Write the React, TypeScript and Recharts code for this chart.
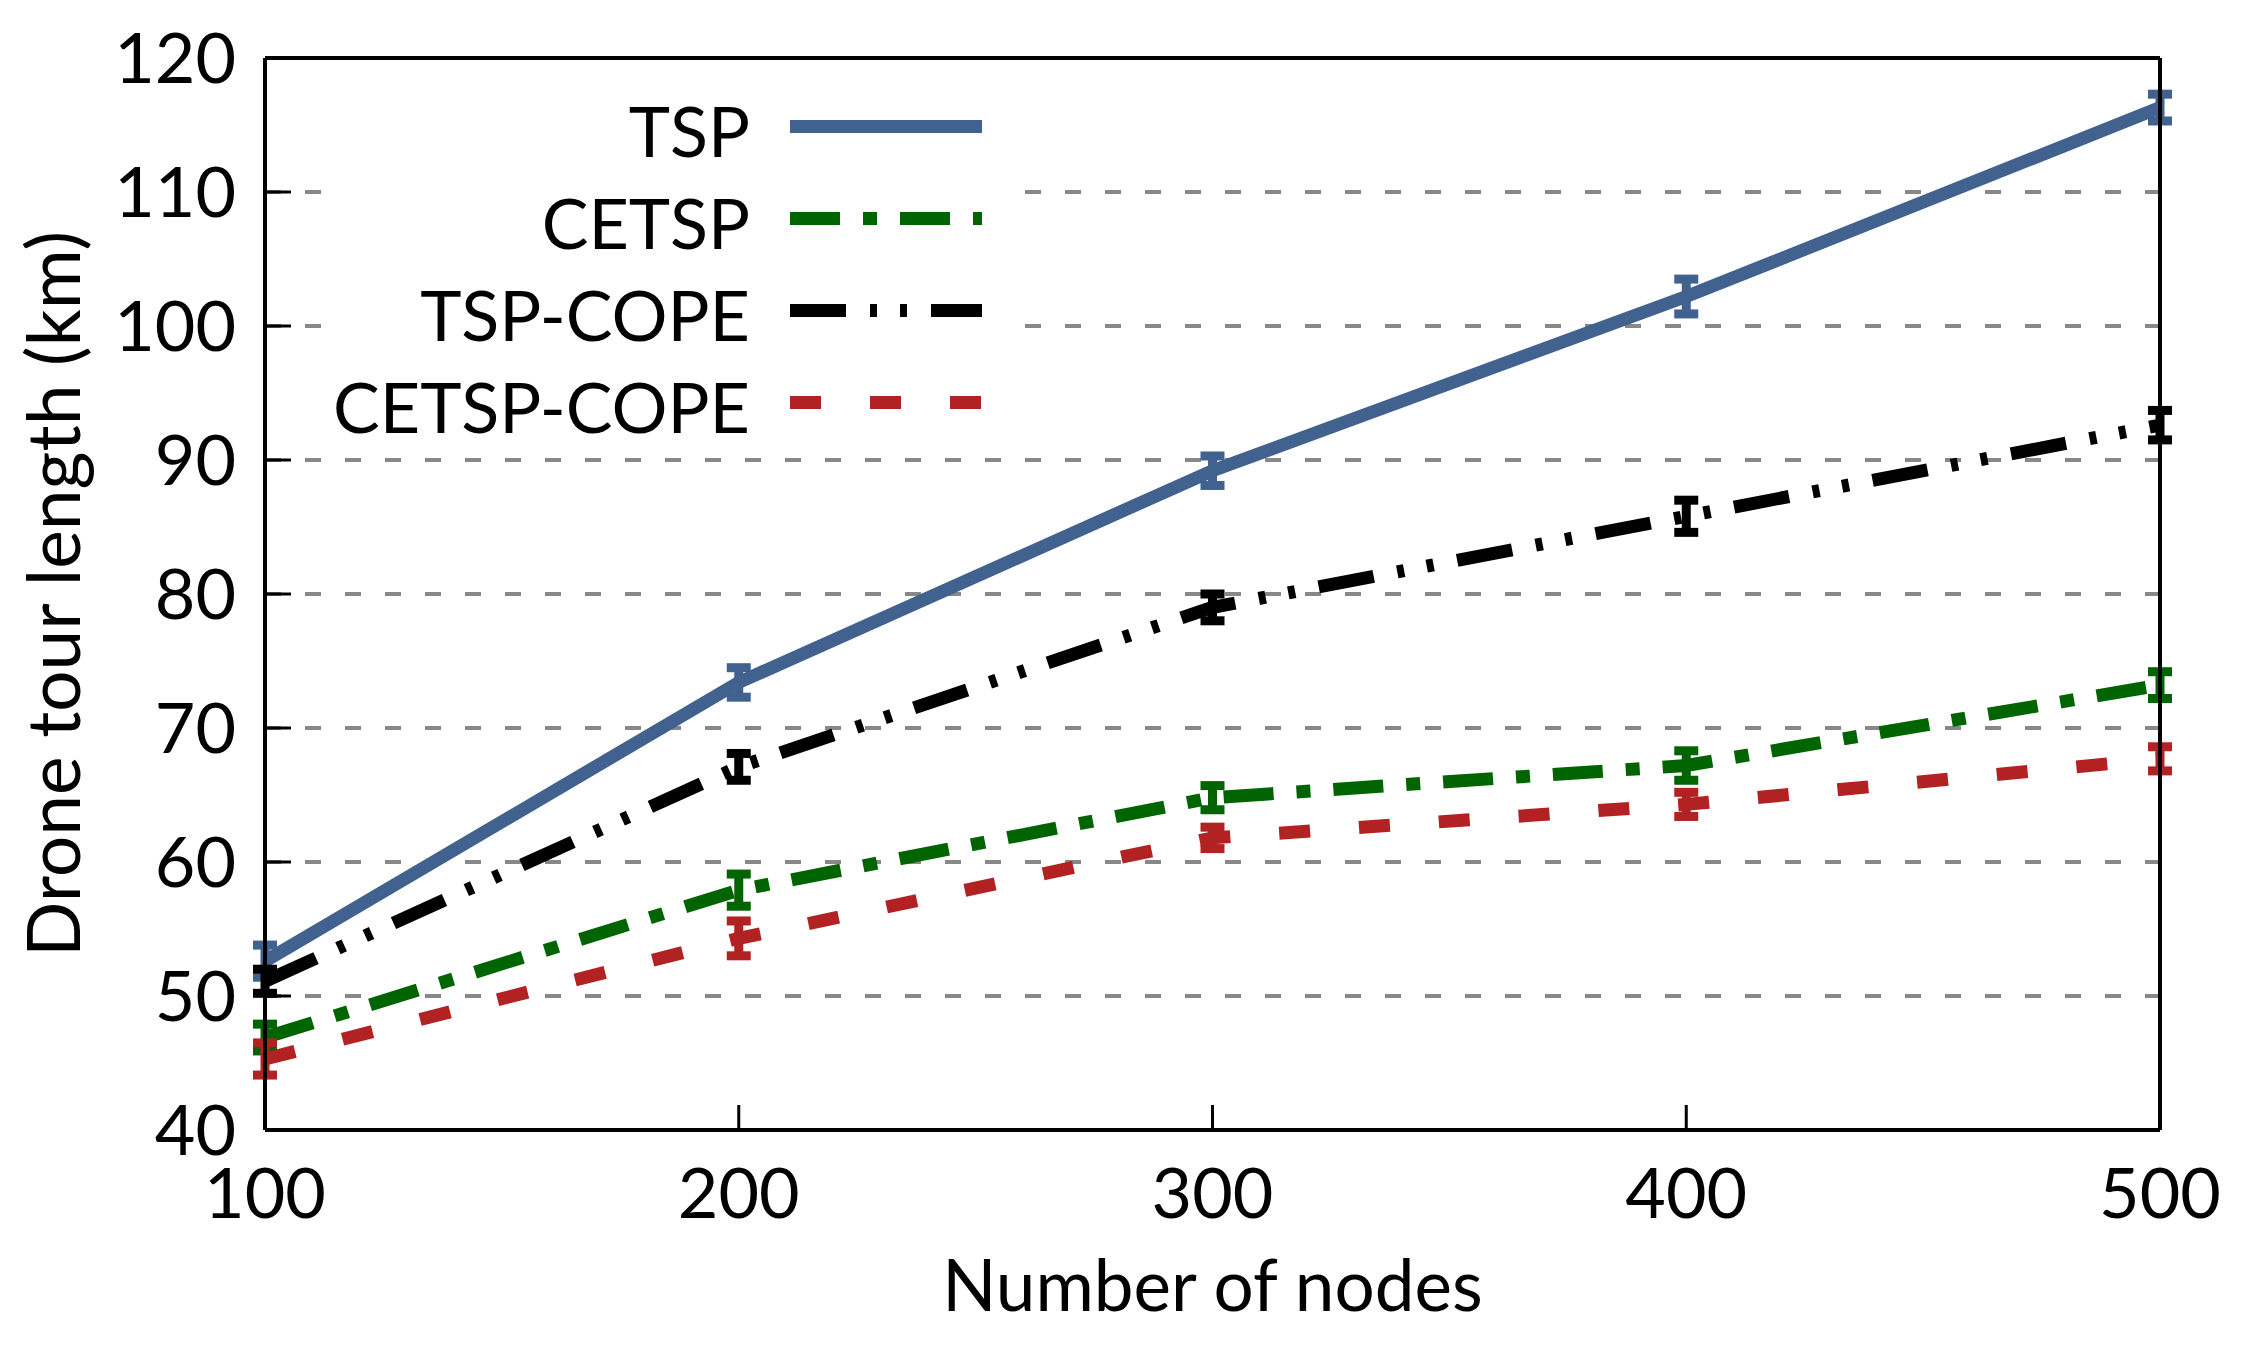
import React from 'react';
import { LineChart, Line, XAxis, YAxis, CartesianGrid, ErrorBar, Legend } from 'recharts';

const NODES = [100, 200, 300, 400, 500];
const Y_TICKS = [40, 50, 60, 70, 80, 90, 100, 110, 120];
const GRID_VALUES = [50, 60, 70, 80, 90, 100, 110];

const TSP = [52.6, 73.4, 89.2, 102.2, 116.3];
const TSP_ERR = [1.2, 1.1, 1.1, 1.3, 1.0];
const CETSP = [46.9, 57.9, 64.8, 67.2, 73.2];
const CETSP_ERR = [1.0, 1.2, 0.9, 1.1, 1.0];
const TSP_COPE = [51.1, 67.1, 79.0, 85.8, 92.6];
const TSP_COPE_ERR = [0.9, 1.0, 1.0, 1.2, 1.1];
const CETSP_COPE = [45.3, 54.3, 61.8, 64.3, 67.7];
const CETSP_COPE_ERR = [1.2, 1.3, 0.8, 0.9, 0.9];

const FONT = 'Lato, "Open Sans", sans-serif';

const SERIES = [
  { key: 'tsp', name: 'TSP', color: '#41618f', dash: undefined },
  { key: 'cetsp', name: 'CETSP', color: '#006400', dash: '50 23 14 23' },
  { key: 'tspCope', name: 'TSP-COPE', color: '#000000', dash: '56 24 7 23 7 24' },
  { key: 'cetspCope', name: 'CETSP-COPE', color: '#b22222', dash: '31 49' },
];

const data = NODES.map((n, i) => ({
  nodes: n,
  tsp: TSP[i],
  tspErr: TSP_ERR[i],
  cetsp: CETSP[i],
  cetspErr: CETSP_ERR[i],
  tspCope: TSP_COPE[i],
  tspCopeErr: TSP_COPE_ERR[i],
  cetspCope: CETSP_COPE[i],
  cetspCopeErr: CETSP_COPE_ERR[i],
}));

const tickStyle = { fontSize: 70, fontFamily: FONT, fill: '#000' };
const axisLine = { stroke: '#000', strokeWidth: 4 };
const tickLine = { stroke: '#000', strokeWidth: 3 };

const YTitle = (props: any) => {
  const vb = props.viewBox;
  const cx = vb.x + 80;
  const cy = vb.y + vb.height / 2;
  return (
    <text
      x={cx}
      y={cy}
      transform={`rotate(-90 ${cx} ${cy})`}
      textAnchor="middle"
      fontSize={73}
      fontFamily={FONT}
      fill="#000"
    >
      Drone tour length (km)
    </text>
  );
};

const XTitle = (props: any) => {
  const vb = props.viewBox;
  return (
    <text
      x={vb.x + vb.width / 2}
      y={vb.y + 181}
      textAnchor="middle"
      fontSize={71}
      fontFamily={FONT}
      fill="#000"
    >
      Number of nodes
    </text>
  );
};

// opaque key box, like gnuplot's "set key opaque"
const KeyBox = () => (
  <svg width={680} height={365} style={{ display: 'block' }}>
    {SERIES.map((s, i) => (
      <g key={s.key}>
        <text
          x={420}
          y={72 + 92 * i}
          textAnchor="end"
          fontSize={70}
          fontFamily={FONT}
          fill="#000"
        >
          {s.name}
        </text>
        <line
          x1={460}
          x2={652}
          y1={41.5 + 92 * i}
          y2={41.5 + 92 * i}
          stroke={s.color}
          strokeWidth={13}
          strokeDasharray={s.dash}
        />
      </g>
    ))}
  </svg>
);

export default function App() {
  return (
    <div style={{ position: 'absolute', left: 0, top: 0, width: 2257, height: 1346, background: '#fff' }}>
      <LineChart width={2257} height={1346} data={data} margin={{ top: 56, right: 95, bottom: 0, left: 0 }}>
        <CartesianGrid
          vertical={false}
          horizontalValues={GRID_VALUES}
          stroke="#888888"
          strokeWidth={4}
          strokeDasharray="16 24"
        />
        <XAxis
          dataKey="nodes"
          type="number"
          domain={[100, 500]}
          ticks={NODES}
          interval={0}
          height={216}
          tickSize={-25}
          tickMargin={63}
          tick={tickStyle}
          axisLine={axisLine}
          tickLine={tickLine}
          label={{ content: XTitle }}
        />
        <XAxis
          xAxisId="top"
          orientation="top"
          dataKey="nodes"
          type="number"
          domain={[100, 500]}
          ticks={NODES}
          interval={0}
          height={2}
          tickSize={-23}
          tick={false}
          axisLine={axisLine}
          tickLine={tickLine}
        />
        <YAxis
          type="number"
          domain={[40, 120]}
          ticks={Y_TICKS}
          interval={0}
          width={265}
          tickSize={-26}
          tickMargin={55}
          tick={tickStyle}
          axisLine={axisLine}
          tickLine={tickLine}
          label={{ content: YTitle }}
        />
        <YAxis
          yAxisId="right"
          orientation="right"
          type="number"
          domain={[40, 120]}
          ticks={Y_TICKS}
          interval={0}
          width={2}
          tickSize={-22}
          tick={false}
          axisLine={axisLine}
          tickLine={tickLine}
        />
        <Legend
          content={KeyBox}
          layout="horizontal"
          align="center"
          verticalAlign="middle"
          wrapperStyle={{ position: 'absolute', left: 330, top: 85, width: 680, height: 365, background: '#fff' }}
        />
        {SERIES.map((s) => (
          <Line
            key={s.key}
            dataKey={s.key}
            name={s.name}
            type="linear"
            stroke={s.color}
            strokeWidth={13}
            strokeDasharray={s.dash}
            dot={false}
            activeDot={false}
            isAnimationActive={false}
          >
            <ErrorBar
              dataKey={s.key + 'Err'}
              direction="y"
              width={12}
              stroke={s.color}
              strokeWidth={9}
              isAnimationActive={false}
            />
          </Line>
        ))}
      </LineChart>
    </div>
  );
}
